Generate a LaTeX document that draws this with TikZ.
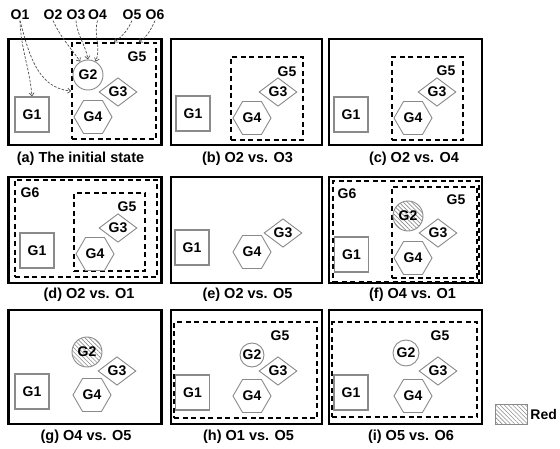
\documentclass[tikz,border=0pt]{standalone}
\usepackage{fontspec}
\setmainfont{Liberation Sans}
\usetikzlibrary{arrows.meta,positioning,shapes.geometric,patterns.meta}
\definecolor{shapegray}{HTML}{8A8A8A}
\definecolor{edgegray}{HTML}{4D4D4D}
\definecolor{hatchgray}{HTML}{8C8C8C}

\begin{document}
\begin{tikzpicture}[x=1pt,y=1pt,
  panel/.style={draw,line width=2.6pt,inner sep=0pt,minimum width=153pt,minimum height=106pt},
  grp/.style={draw,line width=1.6pt,dash pattern=on 5pt off 3.5pt,inner sep=0pt},
  gname/.style={font=\fontsize{14}{16}\selectfont\bfseries,inner sep=1pt},
  gbox/.style={gname,draw=shapegray,line width=1.1pt,minimum width=34pt,minimum height=35pt},
  gcirc/.style={gname,circle,draw=shapegray,line width=.9pt,minimum size=30pt,inner sep=0pt},
  gdiam/.style={gname,diamond,draw=shapegray,line width=.9pt,minimum width=38pt,minimum height=28pt,inner sep=0pt},
  ghex/.style={gname,regular polygon,regular polygon sides=6,draw=shapegray,line width=.9pt,minimum size=38pt,inner sep=0pt},
  hatched/.style={pattern={Lines[angle=-45,distance=3pt,line width=.6pt]},pattern color=hatchgray},
  subcap/.style={font=\fontsize{14.5}{16}\selectfont\bfseries,inner sep=0pt},
  olabel/.style={font=\fontsize{14}{16}\selectfont\bfseries,inner sep=1pt},
  oarrow/.style={draw=edgegray,line width=.7pt,dash pattern=on 2.5pt off 1.5pt,-{Straight Barb[length=3pt,width=5pt]}}
]
\useasboundingbox (0,0) rectangle (560,448);

% panels
\node[panel] (pa) at (85,356) {};
\node[panel,minimum width=151pt] (pb) at (246.5,356) {};
\node[panel] (pc) at (405.5,356) {};
\node[panel] (pd) at (85,218) {};
\node[panel,minimum width=151pt] (pe) at (246.5,218) {};
\node[panel] (pf) at (405.5,218) {};
\node[panel,minimum height=114pt] (pg) at (85,81) {};
\node[panel,minimum width=151pt,minimum height=114pt] (ph) at (246.5,81) {};
\node[panel,minimum height=114pt] (pi) at (405.5,81) {};

% groups
\node[grp,minimum width=84pt,minimum height=96pt] (aG5) at (114,357) {};
\node[gname] (aG5l) at (137,391) {G5};
\node[grp,minimum width=72pt,minimum height=83pt] (bG5) at (267,349.5) {};
\node[gname] (bG5l) at (287,376) {G5};
\node[grp,minimum width=71pt,minimum height=83pt] (cG5) at (427.5,349.5) {};
\node[gname] (cG5l) at (446,377) {G5};
\node[grp,minimum width=142pt,minimum height=97pt] (dG6) at (86,219.5) {};
\node[gname] (dG6l) at (30,255) {G6};
\node[grp,minimum width=71pt,minimum height=78pt] (dG5) at (109.5,216) {};
\node[gname] (dG5l) at (127,241) {G5};
\node[grp,minimum width=146pt,minimum height=101pt] (fG6) at (406,216.5) {};
\node[gname] (fG6l) at (347,254) {G6};
\node[grp,minimum width=85pt,minimum height=91pt] (fG5) at (434.5,215.5) {};
\node[gname] (fG5l) at (456,248) {G5};
\node[grp,minimum width=143pt,minimum height=96pt] (hG5) at (245.5,78) {};
\node[gname] (hG5l) at (280,112) {G5};
\node[grp,minimum width=145pt,minimum height=95pt] (iG5) at (404.5,78.5) {};
\node[gname] (iG5l) at (440,112) {G5};

% (a)
\node[gbox] (aG1) at (32,333.5) {G1};
\node[gcirc] (aG2) at (88,373) {G2};
\node[gdiam] (aG3) at (118,356) {G3};
\node[ghex] (aG4) at (93,331) {G4};
% (b)
\node[gbox] (bG1) at (193,334.5) {G1};
\node[gdiam] (bG3) at (278,356) {G3};
\node[ghex] (bG4) at (252,330) {G4};
% (c)
\node[gbox] (cG1) at (351,333.5) {G1};
\node[gdiam] (cG3) at (437,356) {G3};
\node[ghex] (cG4) at (413,330) {G4};
% (d)
\node[gbox] (dG1) at (37,197.5) {G1};
\node[gdiam] (dG3) at (118,220) {G3};
\node[ghex] (dG4) at (95,194) {G4};
% (e)
\node[gbox] (eG1) at (192,200.5) {G1};
\node[gdiam] (eG3) at (283,215) {G3};
\node[ghex] (eG4) at (252,196) {G4};
% (f)
\node[gbox] (fG1) at (351.5,193.5) {G1};
\node[gcirc,hatched] (fG2) at (408,232) {G2};
\node[gdiam] (fG3) at (438,215) {G3};
\node[ghex] (fG4) at (413,190) {G4};
% (g)
\node[gbox] (gG1) at (32,56.5) {G1};
\node[gcirc,hatched] (gG2) at (87,96) {G2};
\node[gdiam] (gG3) at (117,77) {G3};
\node[ghex] (gG4) at (92,53) {G4};
% (h)
\node[gbox] (hG1) at (192.5,55.5) {G1};
\node[gcirc,minimum size=24pt] (hG2) at (252,93) {G2};
\node[gdiam] (hG3) at (278,77) {G3};
\node[ghex] (hG4) at (252,52) {G4};
% (i)
\node[gbox] (iG1) at (351,55.5) {G1};
\node[gcirc,minimum size=26pt] (iG2) at (406,95) {G2};
\node[gdiam] (iG3) at (438,77) {G3};
\node[ghex] (iG4) at (413,52) {G4};

% captions
\node[subcap] (capa) at (80.5,289) {(a) The initial state};
\node[subcap] (capb) at (247.5,289) {(b) O2 vs. O3};
\node[subcap] (capc) at (414,289) {(c) O2 vs. O4};
\node[subcap] (capd) at (89,153) {(d) O2 vs. O1};
\node[subcap] (cape) at (247.5,153) {(e) O2 vs. O5};
\node[subcap] (capf) at (412.5,153) {(f) O4 vs. O1};
\node[subcap] (capg) at (86,11) {(g) O4 vs. O5};
\node[subcap] (caph) at (248.5,11) {(h) O1 vs. O5};
\node[subcap] (capi) at (411,11) {(i) O5 vs. O6};

% legend
\node[draw=shapegray,hatched,minimum width=32pt,minimum height=20pt,inner sep=0pt] (lgred) at (511,34) {};
\node[gname,right=2pt of lgred] (lgtext) {Red};

% operations
\foreach \n/\x in {1/20,2/53,3/76,4/97.5,5/132,6/155}
  \node[olabel] (O\n) at (\x,433.5) {O\n};
\draw[oarrow] (O1.south) to[out=-88,in=95] (aG1.north);
\draw[oarrow] (O1.south) to[out=-75,in=175] (aG5.west);
\draw[oarrow] (O2.south) to[out=-65,in=125] (aG2.120);
\draw[oarrow] (O3.south) to[out=-85,in=100] (aG2.north);
\draw[oarrow] (O4.south) to[out=-105,in=70] (aG2.60);
\draw[oarrow] (O5.south) to[out=-115,in=35] (aG5.north);
\draw[oarrow] (O6.south) to[out=-115,in=35] (aG5.63);
\end{tikzpicture}
\end{document}
